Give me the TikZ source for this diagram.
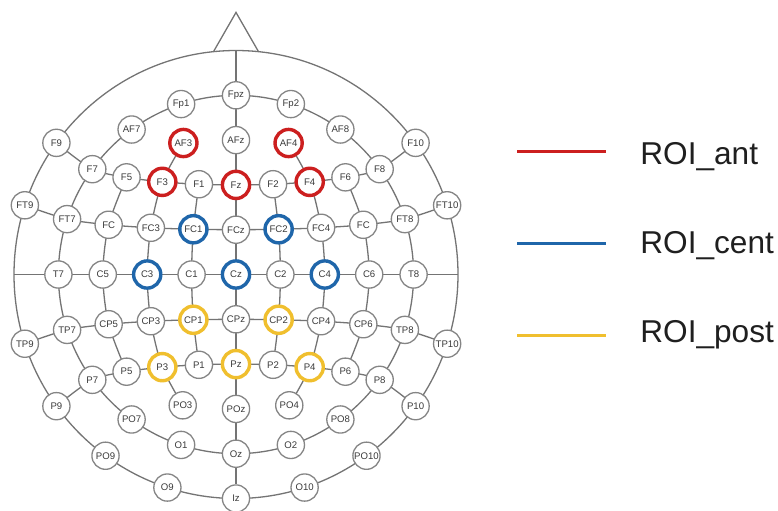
\documentclass[tikz,border=0pt]{standalone}
\usepackage{fontspec}
\setmainfont{Liberation Sans}
\usetikzlibrary{backgrounds}
\definecolor{roiRed}{HTML}{CC1F1F}
\definecolor{roiBlue}{HTML}{1F66AA}
\definecolor{roiYellow}{HTML}{F0BF2E}
\definecolor{wire}{HTML}{747474}
\definecolor{rim}{HTML}{858585}
\definecolor{ink}{HTML}{3A3A3A}
\begin{document}
\begin{tikzpicture}[x=0.5pt,y=-0.5pt,
  wireline/.style={draw=wire, line width=0.65pt},
  el/.style={circle, draw=rim, line width=0.65pt, fill=white, minimum size=13.6pt,
             inner sep=0pt, font=\fontsize{4.8}{5}\selectfont, text=ink},
  ant/.style={el, draw=roiRed, line width=1.7pt},
  cent/.style={el, draw=roiBlue, line width=1.7pt},
  post/.style={el, draw=roiYellow, line width=1.7pt},
  legendline/.style={line width=1.5pt},
  legendtext/.style={anchor=base west, inner sep=0pt, text=black!88,
                     font=\fontsize{15.8}{19}\selectfont}]
\useasboundingbox (0,0) rectangle (778,510);
\begin{pgfonlayer}{background}
  \fill[white] (0,0) rectangle (778,510);
\end{pgfonlayer}

% ---------- scalp map: unit = one 10% step ----------
\begin{scope}[shift={(236,274.5)}, x=22.2pt, y=22.4pt]
  % outer (112.5 deg) ring
  \node[el] (F9)   at (144:5) {F9};
  \node[el] (FT9)  at (162:5) {FT9};
  \node[el] (TP9)  at (198:5) {TP9};
  \node[el] (P9)   at (216:5) {P9};
  \node[el] (PO9)  at (234:5) {PO9};
  \node[el] (O9)   at (252:5) {O9};
  \node[el] (Iz)   at (270:5) {Iz};
  \node[el] (O10)  at (288:5) {O10};
  \node[el] (PO10) at (306:5) {PO10};
  \node[el] (P10)  at (324:5) {P10};
  \node[el] (TP10) at (342:5) {TP10};
  \node[el] (FT10) at (18:5)  {FT10};
  \node[el] (F10)  at (36:5)  {F10};
  % equator ring
  \node[el] (Fpz)  at (90:4)  {Fpz};
  \node[el] (Fp1)  at (108:4) {Fp1};
  \node[el] (AF7)  at (126:4) {AF7};
  \node[el] (F7)   at (144:4) {F7};
  \node[el] (FT7)  at (162:4) {FT7};
  \node[el] (T7)   at (180:4) {T7};
  \node[el] (TP7)  at (198:4) {TP7};
  \node[el] (P7)   at (216:4) {P7};
  \node[el] (PO7)  at (234:4) {PO7};
  \node[el] (O1)   at (252:4) {O1};
  \node[el] (Oz)   at (270:4) {Oz};
  \node[el] (O2)   at (288:4) {O2};
  \node[el] (PO8)  at (306:4) {PO8};
  \node[el] (P8)   at (324:4) {P8};
  \node[el] (TP8)  at (342:4) {TP8};
  \node[el] (T8)   at (0:4)   {T8};
  \node[el] (FT8)  at (18:4)  {FT8};
  \node[el] (F8)   at (36:4)  {F8};
  \node[el] (AF8)  at (54:4)  {AF8};
  \node[el] (Fp2)  at (72:4)  {Fp2};
  % midline
  \node[el]   (AFz) at (0,3)  {AFz};
  \node[ant]  (Fz)  at (0,2)  {Fz};
  \node[el]   (FCz) at (0,1)  {FCz};
  \node[cent] (Cz)  at (0,0)  {Cz};
  \node[el]   (CPz) at (0,-1) {CPz};
  \node[post] (Pz)  at (0,-2) {Pz};
  \node[el]   (POz) at (0,-3) {POz};
  % anterior rows
  \node[ant]  (AF3) at (-1.185,2.935) {AF3};
  \node[ant]  (AF4) at (1.185,2.935)  {AF4};
  \node[el]   (F5)  at (-2.465,2.169) {F5};
  \node[ant]  (F3)  at (-1.660,2.068) {F3};
  \node[el]   (F1)  at (-0.835,2.015) {F1};
  \node[el]   (F2)  at (0.835,2.015)  {F2};
  \node[ant]  (F4)  at (1.660,2.068)  {F4};
  \node[el]   (F6)  at (2.465,2.169)  {F6};
  \node[el]   (FC5) at (-2.868,1.110) {FC};
  \node[el]   (FC3) at (-1.917,1.043) {FC3};
  \node[cent] (FC1) at (-0.960,1.010) {FC1};
  \node[cent] (FC2) at (0.960,1.010)  {FC2};
  \node[el]   (FC4) at (1.917,1.043)  {FC4};
  \node[el]   (FC6) at (2.868,1.110)  {FC};
  % central row
  \node[el]   (C5)  at (-3,0) {C5};
  \node[cent] (C3)  at (-2,0) {C3};
  \node[el]   (C1)  at (-1,0) {C1};
  \node[el]   (C2)  at (1,0)  {C2};
  \node[cent] (C4)  at (2,0)  {C4};
  \node[el]   (C6)  at (3,0)  {C6};
  % posterior rows
  \node[el]   (CP5) at (-2.868,-1.110) {CP5};
  \node[el]   (CP3) at (-1.917,-1.043) {CP3};
  \node[post] (CP1) at (-0.960,-1.010) {CP1};
  \node[post] (CP2) at (0.960,-1.010)  {CP2};
  \node[el]   (CP4) at (1.917,-1.043)  {CP4};
  \node[el]   (CP6) at (2.868,-1.110)  {CP6};
  \node[el]   (P5)  at (-2.465,-2.169) {P5};
  \node[post] (P3)  at (-1.660,-2.068) {P3};
  \node[el]   (P1)  at (-0.835,-2.015) {P1};
  \node[el]   (P2)  at (0.835,-2.015)  {P2};
  \node[post] (P4)  at (1.660,-2.068)  {P4};
  \node[el]   (P6)  at (2.465,-2.169)  {P6};
  \node[el]   (PO3) at (-1.2,-2.92) {PO3};
  \node[el]   (PO4) at (1.2,-2.92)  {PO4};

  \coordinate (Nz)  at (90:5);
  \coordinate (T9)  at (180:5);
  \coordinate (T10) at (0:5);

  \begin{pgfonlayer}{background}
    % head outline, nose and equator
    \draw[wireline] (0,0) circle[radius=5];
    \draw[wireline] (0,0) circle[radius=4];
    \draw[wireline] (-0.507,4.974) -- (0,5.85) -- (0.507,4.974);
    \draw[wireline] (Nz) -- (Iz);
    \draw[wireline] (T9) -- (T10);
    % coronal rows
    \draw[wireline] plot[smooth] coordinates {(F9.center) (F7.center) (F5.center) (F3.center) (F1.center)
      (Fz.center) (F2.center) (F4.center) (F6.center) (F8.center) (F10.center)};
    \draw[wireline] plot[smooth] coordinates {(FT9.center) (FT7.center) (FC5.center) (FC3.center) (FC1.center)
      (FCz.center) (FC2.center) (FC4.center) (FC6.center) (FT8.center) (FT10.center)};
    \draw[wireline] plot[smooth] coordinates {(TP9.center) (TP7.center) (CP5.center) (CP3.center) (CP1.center)
      (CPz.center) (CP2.center) (CP4.center) (CP6.center) (TP8.center) (TP10.center)};
    \draw[wireline] plot[smooth] coordinates {(P9.center) (P7.center) (P5.center) (P3.center) (P1.center)
      (Pz.center) (P2.center) (P4.center) (P6.center) (P8.center) (P10.center)};
    % sagittal columns
    \draw[wireline] plot[smooth] coordinates {(AF3.center) (F3.center) (FC3.center) (C3.center)
      (CP3.center) (P3.center) (PO3.center)};
    \draw[wireline] plot[smooth] coordinates {(AF4.center) (F4.center) (FC4.center) (C4.center)
      (CP4.center) (P4.center) (PO4.center)};
    \draw[wireline] plot[smooth] coordinates {(F1.center) (FC1.center) (C1.center) (CP1.center) (P1.center)};
    \draw[wireline] plot[smooth] coordinates {(F2.center) (FC2.center) (C2.center) (CP2.center) (P2.center)};
    \draw[wireline] plot[smooth] coordinates {(F5.center) (FC5.center) (C5.center) (CP5.center) (P5.center)};
    \draw[wireline] plot[smooth] coordinates {(F6.center) (FC6.center) (C6.center) (CP6.center) (P6.center)};
  \end{pgfonlayer}
\end{scope}

% ---------- legend ----------
\coordinate (antA)  at (517,151.7);  \coordinate (antB)  at (606,151.7);
\coordinate (centA) at (517,243.7);  \coordinate (centB) at (606,243.7);
\coordinate (postA) at (517,335.7);  \coordinate (postB) at (606,335.7);
\draw[legendline, roiRed]    (antA)  -- (antB);
\draw[legendline, roiBlue]   (centA) -- (centB);
\draw[legendline, roiYellow] (postA) -- (postB);
\node[legendtext] (antT)  at (640,164)   {ROI\_ant};
\node[legendtext] (centT) at (640,253.3) {ROI\_cent};
\node[legendtext] (postT) at (640,342.7) {ROI\_post};
\end{tikzpicture}
\end{document}
